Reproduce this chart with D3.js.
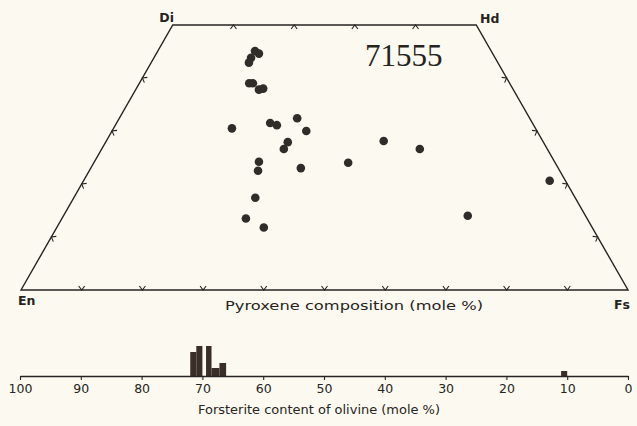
<!DOCTYPE html>
<html>
<head>
<meta charset="utf-8">
<script src="https://cdn.jsdelivr.net/npm/d3@7"></script>
<style>
  html, body { margin: 0; padding: 0; background: #fcfaf0; }
  svg { display: block; }
  text { font-family: "DejaVu Sans", sans-serif; fill: #262422; }
</style>
</head>
<body>
<svg id="chart" width="637" height="426"></svg>
<script>
// ---- Pyroxene compositions (mole %): Wo and Fs (En = 100 - Wo - Fs)
const pxWo = [45.1, 44.6, 43.8, 42.9, 39.0, 39.0, 37.8, 38.0, 30.5, 31.5, 31.1, 32.4, 30.0,
              27.9, 26.6, 24.2, 22.5, 23.0, 24.0, 28.1, 26.6, 14.0, 20.6, 17.4, 13.5, 11.8];
const pxFs = [16.0, 16.9, 16.0, 16.1, 18.1, 18.7, 20.3, 20.9, 19.5, 25.3, 26.6, 29.3, 32.0,
              30.0, 30.0, 27.1, 27.8, 34.6, 41.9, 45.7, 52.4, 66.6, 76.8, 29.9, 30.3, 34.1];

// ---- Olivine forsterite histogram (bin edges in Fo mole %, relative frequency)
const foBinHi = [72, 71, 70, 69.4, 68.5, 67.2, 11];
const foBinLo = [71, 70, 69.4, 68.5, 67.2, 66.1, 10];
const foCount = [4.8, 6, 0, 6, 1.6, 2.6, 1];
const foTicks = [100, 90, 80, 70, 60, 50, 40, 30, 20, 10, 0];

const quadTickVals = [10, 20, 30, 40, 50, 60, 70, 80, 90];
const sideTickVals = [10, 20, 30, 40];

const svg = d3.select("#chart");
const ink = "#262422";

// scales for the quadrilateral: base coordinate (Fs + Wo/2) and Wo height
const bx = d3.scaleLinear().domain([0, 100]).range([21, 628]);
const wy = d3.scaleLinear().domain([0, 50]).range([290, 25]);
const P = (wo, fs) => [bx(fs + wo / 2), wy(wo)];

const corners = [P(0, 0), P(50, 0), P(50, 50), P(0, 100)];
svg.append("path")
  .attr("d", d3.line()(corners) + "Z")
  .attr("fill", "none").attr("stroke", ink).attr("stroke-width", 1.4);

// chevron tick marks
function chevron(pt, nx, ny) {
  // nx,ny: inward unit normal; tangent perpendicular
  const tx = -ny, ty = nx, a = 4, b = 3;
  return d3.line()([
    [pt[0] + nx * a + tx * b, pt[1] + ny * a + ty * b],
    pt,
    [pt[0] + nx * a - tx * b, pt[1] + ny * a - ty * b]
  ]);
}
const tickG = svg.append("g").attr("fill", "none").attr("stroke", ink).attr("stroke-width", 1.1);
quadTickVals.forEach(v => tickG.append("path").attr("d", chevron(P(0, v), 0, -1)));
[10, 20, 30, 40].forEach(v => tickG.append("path").attr("d", chevron(P(50, v), 0, 1)));
const s = Math.sqrt(3) / 2;
sideTickVals.forEach(v => {
  tickG.append("path").attr("d", chevron(P(v, 0), s, 0.5));
  tickG.append("path").attr("d", chevron(P(v, 100 - v), -s, 0.5));
});

// data points
svg.append("g").selectAll("circle")
  .data(pxWo.map((w, i) => P(w, pxFs[i])))
  .join("circle")
  .attr("cx", d => d[0]).attr("cy", d => d[1]).attr("r", 4.3)
  .attr("fill", "#2f2c29");

// end-member labels
svg.append("text").attr("x", 174).attr("y", 22).attr("text-anchor", "end")
  .attr("font-size", 12.5).attr("font-weight", "bold").text("Di");
svg.append("text").attr("x", 480).attr("y", 23)
  .attr("font-size", 12.5).attr("font-weight", "bold").text("Hd");
svg.append("text").attr("x", 18).attr("y", 305)
  .attr("font-size", 12.5).attr("font-weight", "bold").text("En");
svg.append("text").attr("x", 630).attr("y", 309).attr("text-anchor", "end")
  .attr("font-size", 12.5).attr("font-weight", "bold").text("Fs");

svg.append("text").attr("x", 225).attr("y", 310)
  .attr("font-size", 12.5).attr("textLength", 258).attr("lengthAdjust", "spacingAndGlyphs")
  .text("Pyroxene composition (mole %)");

svg.append("text").attr("x", 365).attr("y", 66)
  .style("font-family", "'Liberation Serif', 'Times New Roman', serif")
  .attr("font-size", 31).text("71555");

// ---- Olivine histogram
const fx = d3.scaleLinear().domain([100, 0]).range([20, 628]);
const fy = d3.scaleLinear().domain([0, 6]).range([376, 346]);

svg.append("g").selectAll("rect")
  .data(foCount.map((c, i) => ({ c, hi: foBinHi[i], lo: foBinLo[i] })).filter(d => d.c > 0))
  .join("rect")
  .attr("x", d => fx(d.hi)).attr("width", d => fx(d.lo) - fx(d.hi))
  .attr("y", d => fy(d.c)).attr("height", d => fy(0) - fy(d.c))
  .attr("fill", "#3a2e28");

const ax = svg.append("g").attr("transform", `translate(0,${fy(0)})`)
  .call(d3.axisBottom(fx).tickValues(foTicks).tickSize(4).tickSizeOuter(0).tickPadding(4));
ax.select(".domain").attr("stroke", ink).attr("stroke-width", 1.5);
ax.selectAll(".tick line").attr("stroke", ink).attr("stroke-width", 1.1);
ax.selectAll(".tick text").attr("font-size", 12.5).attr("fill", ink)
  .style("font-family", "'DejaVu Sans', sans-serif");

svg.append("text").attr("x", 198).attr("y", 414)
  .attr("font-size", 12.5).attr("textLength", 242).attr("lengthAdjust", "spacingAndGlyphs")
  .text("Forsterite content of olivine (mole %)");
</script>
</body>
</html>
